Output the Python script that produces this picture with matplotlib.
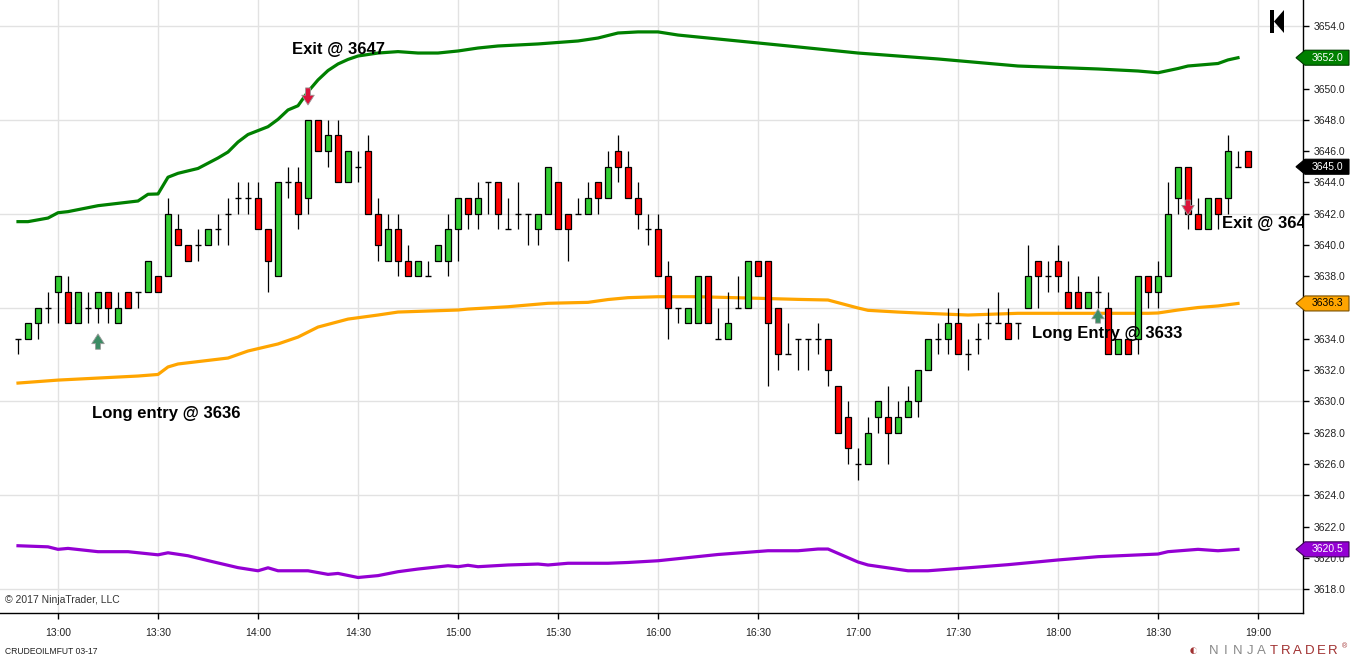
import matplotlib
matplotlib.use('Agg')
import matplotlib.pyplot as plt
from matplotlib.patches import Polygon, Rectangle
from matplotlib.transforms import blended_transform_factory
import numpy as np

plt.rcParams['font.family'] = ['Liberation Sans', 'DejaVu Sans']

# ---------------- data ----------------
bar_start = "12:48"          # first 3-minute bar
bar_minutes = 3

opens = [3634,3634,3635,3636,3637,3637,3635,3636,3636,3637,
         3635,3637,3637,3637,3638,3638,3641,3640,3640,3640,
         3641,3642,3643,3643,3643,3641,3638,3644,3644,3643,
         3648,3646,3647,3644,3645,3646,3642,3639,3641,3639,
         3638,3638,3639,3639,3641,3643,3642,3644,3644,3641,
         3642,3642,3641,3642,3644,3642,3642,3642,3644,3643,
         3646,3645,3643,3641,3641,3638,3636,3635,3635,3638,
         3634,3634,3636,3636,3639,3639,3636,3633,3634,3634,
         3634,3634,3631,3629,3626,3626,3629,3629,3628,3629,
         3630,3632,3634,3634,3635,3633,3634,3635,3635,3635,
         3635,3636,3639,3638,3639,3637,3637,3636,3637,3636,
         3633,3634,3634,3638,3637,3638,3643,3645,3642,3641,
         3643,3643,3645,3646]
highs = [3634,3635,3636,3637,3638,3638,3637,3637,3637,3637,
         3637,3637,3637,3639,3638,3643,3642,3640,3641,3641,
         3642,3643,3644,3644,3644,3641,3644,3645,3645,3648,
         3648,3648,3648,3646,3646,3647,3643,3642,3642,3640,
         3639,3639,3640,3642,3643,3643,3644,3644,3644,3643,
         3644,3642,3642,3645,3644,3642,3643,3644,3644,3646,
         3647,3646,3644,3642,3642,3639,3636,3636,3638,3638,
         3636,3637,3638,3639,3639,3639,3636,3635,3634,3634,
         3635,3634,3631,3630,3627,3629,3630,3631,3630,3631,
         3632,3634,3635,3636,3636,3634,3635,3636,3637,3636,
         3635,3640,3639,3639,3640,3639,3638,3637,3638,3637,
         3634,3634,3638,3638,3639,3644,3645,3645,3643,3643,
         3643,3647,3646,3646]
lows = [3633,3634,3634,3635,3635,3635,3635,3635,3635,3635,
        3635,3636,3636,3637,3637,3638,3640,3639,3639,3640,
        3640,3640,3642,3642,3641,3637,3638,3643,3641,3642,
        3646,3645,3644,3644,3644,3642,3639,3639,3638,3638,
        3638,3638,3639,3638,3639,3641,3641,3642,3641,3641,
        3641,3640,3640,3642,3641,3639,3642,3642,3642,3643,
        3644,3643,3641,3640,3638,3634,3635,3635,3635,3635,
        3634,3634,3636,3636,3638,3631,3632,3633,3632,3632,
        3633,3631,3628,3626,3625,3626,3628,3626,3628,3629,
        3629,3632,3633,3633,3633,3632,3633,3634,3635,3634,
        3634,3636,3636,3637,3637,3636,3636,3636,3636,3633,
        3633,3633,3633,3636,3636,3638,3642,3641,3641,3641,
        3641,3642,3645,3645]
closes = [3634,3635,3636,3636,3638,3635,3637,3636,3637,3636,
          3636,3636,3637,3639,3637,3642,3640,3639,3640,3641,
          3641,3642,3643,3643,3641,3639,3644,3644,3642,3648,
          3646,3647,3644,3646,3645,3642,3640,3641,3639,3638,
          3639,3638,3640,3641,3643,3642,3643,3644,3642,3641,
          3642,3642,3642,3645,3641,3641,3642,3643,3643,3645,
          3645,3643,3642,3641,3638,3636,3636,3636,3638,3635,
          3634,3635,3636,3639,3638,3635,3633,3633,3634,3634,
          3634,3632,3628,3627,3626,3628,3630,3628,3629,3630,
          3632,3634,3634,3635,3633,3633,3634,3635,3635,3634,
          3635,3638,3638,3638,3638,3636,3636,3637,3637,3633,
          3634,3633,3638,3637,3638,3642,3645,3642,3641,3643,
          3642,3646,3645,3645]

# band readings (bar index, value)
upper_bar = [0,1,3,4,5,8,10,12,13,14,15,16,18,20,21,22,23,25,26,27,28,29,30,31,32,33,34,36,38,
             40,42,44,46,48,52,56,58,60,62,64,66,72,78,84,92,100,108,112,114,116,117,120,121,122]
upper_val = [3641.49,3641.49,3641.72,3642.06,3642.13,3642.51,3642.66,3642.81,3643.24,3643.26,
             3644.33,3644.58,3644.89,3645.56,3645.94,3646.58,3647.06,3647.56,3648.03,3648.63,
             3648.90,3649.80,3650.55,3651.15,3651.57,3651.86,3652.08,3652.27,3652.36,
             3652.27,3652.27,3652.40,3652.59,3652.72,3652.85,3653.04,3653.23,3653.55,3653.62,
             3653.62,3653.42,3653.04,3652.66,3652.27,3651.89,3651.44,3651.25,3651.12,3651.01,
             3651.28,3651.44,3651.60,3651.83,3651.97]
mid_bar = [0,4,8,12,14,15,16,21,23,26,28,30,33,36,38,44,45,49,53,57,59,61,64,68,74,78,81,
           84,85,88,90,95,100,113,114,116,118,120,122]
mid_val = [3631.17,3631.36,3631.49,3631.62,3631.72,3632.20,3632.39,3632.77,3633.22,3633.67,
           3634.11,3634.75,3635.26,3635.52,3635.71,3635.84,3635.90,3636.05,3636.27,3636.33,
           3636.51,3636.63,3636.69,3636.69,3636.59,3636.52,3636.48,3635.97,3635.82,3635.71,
           3635.65,3635.52,3635.63,3635.63,3635.65,3635.84,3636.00,3636.10,3636.26]
lower_bar = [0,3,4,5,8,11,14,15,17,19,22,24,25,26,29,31,32,34,36,38,40,43,44,45,46,49,52,53,
             55,59,61,64,70,75,78,80,81,84,85,89,91,95,99,104,108,114,115,118,120,122]
lower_val = [3620.77,3620.70,3620.54,3620.60,3620.39,3620.39,3620.19,3620.32,3620.13,3619.82,
             3619.37,3619.17,3619.36,3619.17,3619.17,3618.94,3619.00,3618.74,3618.86,3619.11,
             3619.28,3619.49,3619.43,3619.52,3619.43,3619.54,3619.60,3619.54,3619.65,3619.65,
             3619.70,3619.81,3620.21,3620.45,3620.45,3620.56,3620.56,3619.73,3619.54,3619.17,
             3619.17,3619.36,3619.56,3619.86,3620.07,3620.24,3620.39,3620.54,3620.45,3620.54]

time_labels = ["13:00","13:30","14:00","14:30","15:00","15:30","16:00",
               "16:30","17:00","17:30","18:00","18:30","19:00"]
price_ticks = list(range(3618, 3655, 2))
grid_prices = list(range(3618, 3655, 6))

# trade markers
entry1_bar, entry1_text = 8, "Long entry @ 3636"
exit1_bar, exit1_text = 29, "Exit @ 3647"
entry2_bar, entry2_text = 108, "Long Entry @ 3633"
exit2_bar, exit2_text = 117, "Exit @ 3642"

# ---------------- helpers ----------------
def to_min(s):
    h, m = s.split(":")
    return int(h) * 60 + int(m)

t0 = to_min(bar_start)
n = len(closes)
bx = np.array([t0 + bar_minutes * i for i in range(n)], dtype=float)

W, H = 1350, 660
fig = plt.figure(figsize=(W / 100, H / 100), dpi=100)
fig.patch.set_facecolor('white')
ax = fig.add_axes([0, 47 / H, 1303 / W, 613 / H])
ax.set_xlim(t0 - 5.4, t0 + 385.5)
ax.set_ylim(3616.47, 3655.66)
ax.set_facecolor('white')

# grid
gcol = '#e2e2e2'
xt = [to_min(s) for s in time_labels]
for t in xt:
    ax.axvline(t, color=gcol, lw=1.0, zorder=0)
for p in grid_prices:
    ax.axhline(p, color=gcol, lw=1.0, zorder=0)

# bands
ax.plot(bx[upper_bar], upper_val, color='#008000', lw=2.3, zorder=4, solid_joinstyle='round')
ax.plot(bx[mid_bar], mid_val, color='#FFA500', lw=2.3, zorder=4, solid_joinstyle='round')
ax.plot(bx[lower_bar], lower_val, color='#9400D3', lw=2.3, zorder=4, solid_joinstyle='round')

# candles
O = np.array(opens); Hh = np.array(highs); L = np.array(lows); C = np.array(closes)
bw = 2.0
ax.vlines(bx, L, Hh, color='black', lw=0.9, zorder=5)
up = C > O
dn = C < O
dj = C == O
ax.bar(bx[up], (C - O)[up], bottom=O[up], width=bw, color='#32CD32',
       edgecolor='black', linewidth=0.9, zorder=6)
ax.bar(bx[dn], (O - C)[dn], bottom=C[dn], width=bw, color='#FF0000',
       edgecolor='black', linewidth=0.9, zorder=6)
ax.hlines(C[dj], bx[dj] - bw / 2, bx[dj] + bw / 2, color='black', lw=1.0, zorder=6)

# arrows
def arrow(bar, y_tail, y_tip, col):
    ax.annotate('', xy=(bx[bar], y_tip), xytext=(bx[bar], y_tail),
                arrowprops=dict(arrowstyle='simple,head_width=0.9,head_length=0.7,tail_width=0.35',
                                fc=col, ec='#9a9a9a', lw=0.6, shrinkA=0, shrinkB=0,
                                mutation_scale=10),
                zorder=8)

arrow(entry1_bar, L[entry1_bar] - 1.67, L[entry1_bar] - 0.69, '#3c8c64')
arrow(entry2_bar, L[entry2_bar] - 1.0, L[entry2_bar] - 0.1, '#3c8c64')
arrow(exit1_bar, Hh[exit1_bar] + 2.04, Hh[exit1_bar] + 0.95, '#dc143c')
arrow(exit2_bar, Hh[exit2_bar] - 2.13, Hh[exit2_bar] - 3.09, '#dc143c')

tk = dict(fontsize=12, fontweight='bold', color='black', zorder=9, va='center', ha='left')
ax.text(t0 + 82.2, 3652.47, exit1_text, **tk)
ax.text(t0 + 22.2, 3629.25, entry1_text, **tk)
ax.text(t0 + 304.2, 3634.37, entry2_text, **tk)
ax.text(t0 + 361.2, 3641.40, exit2_text, clip_on=True, **tk)

ax.text(5 / 1303, 1 - 600 / 613, "\u00a9 2017 NinjaTrader, LLC", transform=ax.transAxes,
        fontsize=7.5, color='#333333', va='center', ha='left', zorder=9)

# right-side price markers (values)
marker_vals = [upper_val[-1], mid_val[-1], lower_val[-1], closes[-1]]

# axes styling
for s in ['top', 'left']:
    ax.spines[s].set_visible(False)
for s in ['right', 'bottom']:
    ax.spines[s].set_color('black')
    ax.spines[s].set_linewidth(1.0)
ax.yaxis.tick_right()
ax.set_yticks(price_ticks)
# labels fully hidden under a marker box are left blank
ylabels = []
for p in price_ticks:
    hidden = any(abs(p - v) < 0.45 for v in marker_vals)
    ylabels.append("" if hidden else f"{p:.1f}")
ax.set_yticklabels(ylabels)
ax.set_xticks(xt)
ax.set_xticklabels(time_labels)
ax.tick_params(axis='y', direction='out', length=4, width=1, pad=3.5, labelsize=7.5,
               labelcolor='#222222')
ax.tick_params(axis='x', direction='out', length=4, width=1, pad=7, labelsize=7.5,
               labelcolor='#222222')

btr = blended_transform_factory(fig.transFigure, ax.transData)
hh = 7.5 / 15.639
def marker(val, face, txtcol, edge):
    pts = [(1296 / W, val), (1305 / W, val + hh), (1349 / W, val + hh),
           (1349 / W, val - hh), (1305 / W, val - hh)]
    fig.add_artist(Polygon(pts, closed=True, transform=btr, fc=face, ec=edge, lw=0.8, zorder=10))
    t = fig.text(1327.5 / W, 0, f"{val:.1f}", transform=btr, fontsize=7.5, color=txtcol,
                 ha='center', va='center', zorder=11)
    t.set_y(val)

marker(marker_vals[0], '#008000', 'white', '#003c00')
marker(marker_vals[1], '#FFA500', 'black', '#7a5000')
marker(marker_vals[2], '#9400D3', 'white', '#3c0058')
marker(marker_vals[3], 'black', 'white', 'black')

# top-right navigation glyph
fig.add_artist(Rectangle((1270 / W, 1 - 33 / H), 4 / W, 23 / H, transform=fig.transFigure,
                         fc='black', ec='none', zorder=10))
fig.add_artist(Polygon([(1274 / W, 1 - 21.5 / H), (1284 / W, 1 - 10 / H), (1284 / W, 1 - 33 / H)],
                       closed=True, transform=fig.transFigure, fc='black', ec='none', zorder=10))

# footer texts
fig.text(5 / W, 1 - 651 / H, "CRUDEOILMFUT 03-17", fontsize=6.2, color='#222222',
         ha='left', va='center')
fig.text(1193 / W, 1 - 651 / H, "\u25d0", fontsize=11, color='#a03030', ha='center', va='center')
letters = "NINJATRADER"
for k, ch in enumerate(letters):
    fig.text((1214 + 11.9 * k) / W, 1 - 651 / H, ch, fontsize=9.5,
             color='#8a8a8a' if k < 5 else '#a03030', ha='center', va='center')
fig.text(1344 / W, 1 - 647 / H, "\u00ae", fontsize=5, color='#a03030', ha='center', va='center')

fig.savefig('out.png', dpi=100, facecolor='white')
